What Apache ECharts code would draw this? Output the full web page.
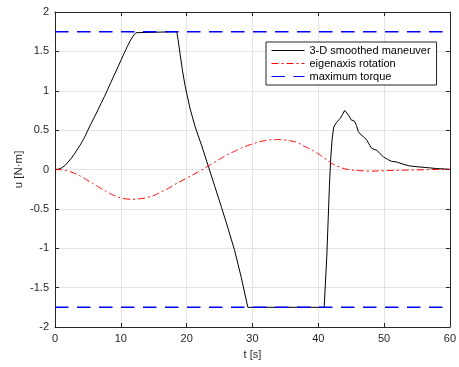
<!DOCTYPE html>
<html>
<head>
<meta charset="utf-8">
<script src="https://cdn.jsdelivr.net/npm/echarts@6/dist/echarts.min.js"></script>
<style>html,body{margin:0;padding:0;background:#fff}#c{width:459px;height:367px}</style>
</head>
<body>
<div id="c"></div>
<script>
// 3-D smoothed maneuver (t, u)
var smoothT = [0,0.5,1,1.5,2,2.5,3,3.5,4,4.5,5,5.5,6,6.5,7,7.5,8,8.5,9,9.5,10,10.5,11,11.5,12,12.3,12.6,18.5,18.7,19.0,19.4,19.8,20.5,21.3,22.3,23.3,24.3,25.3,26.3,27.3,28.3,29.3,40.9,41.0,41.3,41.5,41.7,41.9,42.1,42.35,42.8,43.35,43.7,44.0,44.3,44.6,45.0,45.5,45.8,46.1,46.5,46.9,47.4,47.8,48.1,48.5,48.9,49.4,49.9,50.5,51.1,51.9,53,53.9,55,56.4,58,60];
var smoothU = [0,0.004,0.02,0.05,0.095,0.145,0.205,0.27,0.335,0.41,0.5,0.585,0.668,0.752,0.838,0.925,1.015,1.108,1.2,1.29,1.383,1.475,1.565,1.645,1.71,1.737,1.75,1.75,1.65,1.47,1.24,1.05,0.78,0.54,0.3,0.04,-0.22,-0.48,-0.75,-1.03,-1.37,-1.75,-1.75,-1.74,-1.1,-0.65,-0.2,0.15,0.38,0.54,0.6,0.65,0.7,0.75,0.73,0.69,0.63,0.615,0.56,0.48,0.44,0.415,0.37,0.31,0.27,0.255,0.245,0.2,0.16,0.13,0.105,0.095,0.065,0.045,0.035,0.025,0.012,0.003];
// eigenaxis rotation (t, u)
var eigT = [0,1,2,3,4,5,6,7,8,9,10,11,12,13,14,15,16,17,18,19,20,21,22,23,24,25,26,27,28,29,30,31,32,33,34,35,36,37,38,39,40,41,42,43,44,45,46,47,48,50,52,55,58,60];
var eigU = [0,-0.005,-0.02,-0.05,-0.09,-0.14,-0.19,-0.24,-0.29,-0.33,-0.36,-0.375,-0.378,-0.37,-0.355,-0.33,-0.29,-0.25,-0.2,-0.155,-0.11,-0.065,-0.02,0.03,0.08,0.13,0.18,0.22,0.26,0.295,0.325,0.35,0.368,0.378,0.38,0.375,0.36,0.335,0.29,0.25,0.2,0.14,0.08,0.04,0.01,-0.005,-0.012,-0.018,-0.02,-0.015,-0.01,-0.005,0,0];
// maximum torque
var maxT = [0,60];
var maxU = 1.75;
var xTicks = [0,10,20,30,40,50,60];
var yTicks = [-2,-1.5,-1,-0.5,0,0.5,1,1.5,2];

function pairs(t,u){return t.map(function(v,i){return [v,u[i]];});}

var chart = echarts.init(document.getElementById('c'), null, {renderer:'canvas'});
var font = 'Liberation Sans, Arial, Helvetica, sans-serif';
var axCol = '#262626';
chart.setOption({
  animation:false,
  backgroundColor:'#fff',
  grid:{left:55,right:5,top:12,bottom:40,containLabel:false},
  legend:{
    orient:'vertical', left:266, top:42, width:175,
    backgroundColor:'#fff', borderColor:'#262626', borderWidth:1,
    padding:[3,6,3,5], itemGap:2, itemWidth:33, itemHeight:11,
    itemStyle:{opacity:0},
    lineStyle:{width:1},
    textStyle:{fontFamily:font,fontSize:11,color:'#000',padding:[0,0,0,0]},
    data:[{name:'3-D smoothed maneuver'},{name:'eigenaxis rotation'},{name:'maximum torque'}]
  },
  xAxis:[{
    type:'value', min:0, max:60, interval:10,
    name:'t [s]', nameLocation:'middle', nameGap:22, nameMoveOverlap:false,
    nameTextStyle:{fontFamily:font,fontSize:11,color:axCol},
    axisLine:{show:true,onZero:false,lineStyle:{color:axCol,width:1}},
    axisTick:{show:true,inside:true,length:4,lineStyle:{color:axCol}},
    axisLabel:{fontFamily:font,fontSize:11,color:axCol,margin:6},
    splitLine:{show:true,lineStyle:{color:'#e3e3e3',width:1}}
  },{
    type:'value', min:0, max:60, interval:10, position:'top',
    axisLine:{show:true,onZero:false,lineStyle:{color:axCol,width:1}},
    axisTick:{show:true,inside:true,length:4,lineStyle:{color:axCol}},
    axisLabel:{show:false}, splitLine:{show:false}
  }],
  yAxis:[{
    type:'value', min:-2, max:2, interval:0.5,
    name:'u [N·m]', nameLocation:'middle', nameGap:30, nameRotate:90, nameMoveOverlap:false,
    nameTextStyle:{fontFamily:font,fontSize:11.5,color:axCol},
    axisLine:{show:true,onZero:false,lineStyle:{color:axCol,width:1}},
    axisTick:{show:true,inside:true,length:4,lineStyle:{color:axCol}},
    axisLabel:{fontFamily:font,fontSize:11,color:axCol,margin:6,
      formatter:function(v){return String(v);}},
    splitLine:{show:true,lineStyle:{color:'#e3e3e3',width:1}}
  },{
    type:'value', min:-2, max:2, interval:0.5, position:'right',
    axisLine:{show:true,onZero:false,lineStyle:{color:axCol,width:1}},
    axisTick:{show:true,inside:true,length:4,lineStyle:{color:axCol}},
    axisLabel:{show:false}, splitLine:{show:false}
  }],
  series:[{
    name:'3-D smoothed maneuver', type:'line', symbol:'none', z:3,
    data:pairs(smoothT,smoothU),
    lineStyle:{color:'#000',width:1}, itemStyle:{color:'#000'}
  },{
    name:'eigenaxis rotation', type:'line', symbol:'none', smooth:true, z:4,
    data:pairs(eigT,eigU),
    lineStyle:{color:'#ff0000',width:1,type:[7,3,2,3]}, itemStyle:{color:'#ff0000'}
  },{
    name:'maximum torque', type:'line', symbol:'none', z:5,
    data:pairs(maxT,[maxU,maxU]),
    lineStyle:{color:'#0000ff',width:1.4,type:[13.5,8.5]}, itemStyle:{color:'#0000ff'}
  },{
    name:'maximum torque', type:'line', symbol:'none', z:5,
    data:pairs(maxT,[-maxU,-maxU]),
    lineStyle:{color:'#0000ff',width:1.4,type:[13.5,8.5]}, itemStyle:{color:'#0000ff'}
  }]
});
</script>
</body>
</html>
